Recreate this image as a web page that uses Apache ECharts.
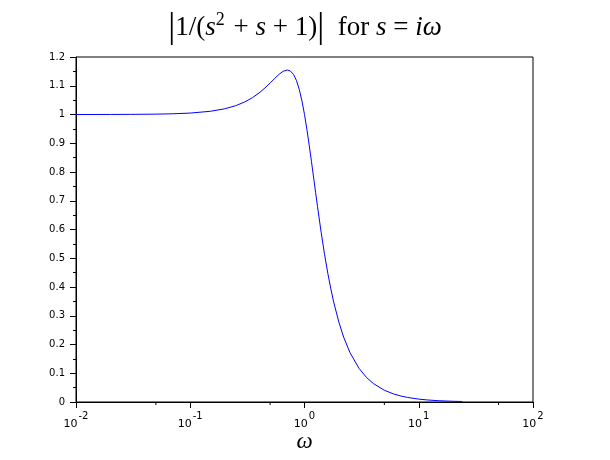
<!DOCTYPE html>
<html>
<head>
<meta charset="utf-8">
<script src="https://cdn.jsdelivr.net/npm/echarts@6/dist/echarts.min.js"></script>
<style>html,body{margin:0;padding:0;background:#fff;}#c{width:610px;height:460px;}</style>
</head>
<body>
<div id="c"></div>
<script>
// angular frequency samples (rad/s)
const omega = [0.01, 0.02, 0.03, 0.05, 0.07, 0.1, 0.15, 0.2, 0.25, 0.3, 0.35, 0.4, 0.45, 0.5, 0.55, 0.6, 0.65, 0.7071, 0.75, 0.8, 0.85, 0.9, 0.95, 1.0, 1.05, 1.1, 1.15, 1.2, 1.25, 1.3, 1.4, 1.5, 1.6, 1.7, 1.8, 2.0, 2.2, 2.5, 3, 3.5, 4, 5, 6, 7, 8, 10, 12, 15, 20, 24];
// magnitude values
const magnitude = [1.0000, 1.0002, 1.00045, 1.00125, 1.00246, 1.00499, 1.01118, 1.01977, 1.03065, 1.04365, 1.05851, 1.07483, 1.09206, 1.10940, 1.12580, 1.13990, 1.15011, 1.15470, 1.15171, 1.13990, 1.11838, 1.08715, 1.04713, 1.0, 0.94788, 0.89296, 0.83727, 0.78240, 0.72954, 0.67945, 0.58910, 0.51215, 0.44750, 0.39338, 0.34800, 0.27735, 0.22596, 0.17197, 0.11704, 0.08488, 0.06442, 0.04079, 0.02816, 0.02062, 0.01575, 0.01005, 0.00697, 0.00445, 0.00250, 0.00174];
// x tick labels (exponents of 10)
const xTickExponents = ['-2', '-1', '0', '1', '2'];
const xTickValues = [0.01, 0.1, 1, 10, 100];
// x minor tick positions
const xMinorTicks = [0.05, 0.5, 5, 50];

const chart = echarts.init(document.getElementById('c'));
const serif = 'Liberation Serif';
chart.setOption({
  animation: false,
  backgroundColor: '#fff',
  title: {
    left: 'center', top: 3,
    text: '{p||}{n|1/(}{i|s}{sup|2}{n| + }{i|s}{n| + 1)}{p||}{n|  for }{i|s}{n| = }{i|iω}',
    textStyle: {
      fontWeight: 'normal',
      rich: {
        n: {fontFamily: serif, fontSize: 27, fontWeight: 'normal', color: '#000', lineHeight: 40},
        i: {fontFamily: serif, fontSize: 27, fontWeight: 'normal', fontStyle: 'italic', color: '#000', lineHeight: 40},
        p: {fontFamily: serif, fontSize: 35, fontWeight: 'normal', color: '#000', lineHeight: 40},
        sup: {fontFamily: serif, fontSize: 18, fontWeight: 'normal', color: '#000', lineHeight: 40, padding: [0, 2, 16, 0]}
      }
    }
  },
  grid: {left: 76, right: 77, top: 57, bottom: 58, outerBoundsMode: 'none', containLabel: false, show: true, borderColor: '#000', borderWidth: 1, backgroundColor: 'transparent'},
  xAxis: {
    type: 'log', logBase: 10, min: 0.01, max: 100,
    name: 'ω', nameLocation: 'middle', nameGap: 28, nameMoveOverlap: false,
    nameTextStyle: {fontFamily: serif, fontStyle: 'italic', fontSize: 23, color: '#000'},
    axisLine: {lineStyle: {color: '#000', width: 1}},
    axisTick: {show: true, length: 6, lineStyle: {color: '#000'}},
    splitLine: {show: false},
    axisLabel: {
      margin: 10,
      formatter: function (v) {
        let idx = xTickValues.findIndex(t => Math.abs(Math.log10(t) - Math.log10(v)) < 1e-6);
        return idx < 0 ? '' : '{b|10}{s|' + xTickExponents[idx] + '}';
      },
      rich: {
        b: {fontFamily: 'DejaVu Sans', fontSize: 11, color: '#000', lineHeight: 18, verticalAlign: 'bottom'},
        s: {fontFamily: 'DejaVu Sans', fontSize: 10, color: '#000', lineHeight: 18, padding: [0, 0, 9, 1]}
      }
    }
  },
  yAxis: {
    type: 'value', min: 0, max: 1.2, interval: 0.1,
    axisLine: {show: true, lineStyle: {color: '#000', width: 1}},
    axisTick: {show: true, length: 6, lineStyle: {color: '#000'}},
    minorTick: {show: true, splitNumber: 2, length: 3, lineStyle: {color: '#000'}},
    splitLine: {show: false},
    axisLabel: {margin: 11, fontFamily: 'DejaVu Sans', fontSize: 10, color: '#000'}
  },
  series: [
    {
      type: 'line', data: omega.map((w, i) => [w, magnitude[i]]),
      showSymbol: false, symbol: 'none', smooth: false,
      lineStyle: {color: '#0000ff', width: 1}
    },
    {
      type: 'custom', clip: false, silent: true,
      data: xMinorTicks.map(v => [v, 0]),
      renderItem: function (params, api) {
        const p = api.coord([api.value(0), 0]);
        return {type: 'line', shape: {x1: p[0], y1: p[1], x2: p[0], y2: p[1] + 3}, style: {stroke: '#000', lineWidth: 1}};
      }
    }
  ]
});
</script>
</body>
</html>
